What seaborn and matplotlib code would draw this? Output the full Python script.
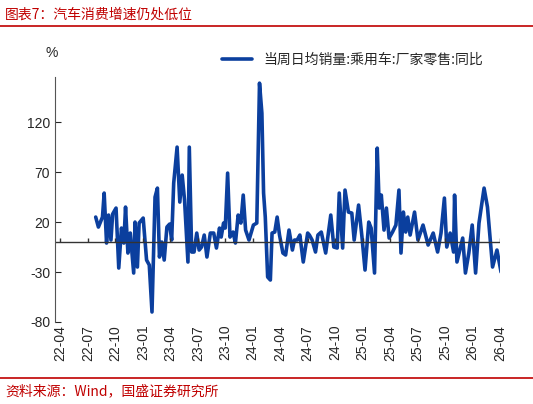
import numpy as np
import pandas as pd
import matplotlib
matplotlib.use("Agg")
import matplotlib.pyplot as plt
import seaborn as sns

# x positions (pixel-ish units, converted to months since 2022-07)
x_a = [120,128,140,145,152,158,165,170,180,188,196,203,208,215,222,232,236,243,248,260,270,278,286,295,302,308,315,322,330,338,344,350,360,368,375,382,392,396,403,410,418,425,432,440,448,458,468,476,485,490,497,502,509,516,525,532,540,548,555,562,572,585,595,603,610,615,620,627,635,640,648,655,662,672,680,690,700,706,714,722,732,745]
v_a = [25,15,25,49,-1,27,2,28,34,-26,14,-1,35,-11,9,-31,20,-25,19,24,-18,-23,-70,45,54,-15,0,-18,15,18,2,59,95,40,67,42,-20,95,-10,-10,9,-8,-5,7,-15,9,9,-6,14,5,19,14,69,5,10,-1,27,19,47,12,2,17,19,159,129,49,25,-35,-38,9,10,25,7,-11,-13,12,-8,2,2,7,-20,9]
x_b = [60,68,78,85,95,108,123,132,142,148,158,165,175,185,192,205,215,224,235,242,252,260,266,272,280,287,295,305,315,324,330,337,344,350,357,370,380,395,410,425,438,448,458,465,475,485,488,495,505,512,520,530,540,550,560,575,585,600,613,625,632,640,647,655,658]
v_b = [7,2,-10,7,10,-11,27,-5,-6,49,-6,52,30,29,2,37,5,-28,20,14,-31,94,34,47,12,34,4,10,17,52,-11,30,10,25,7,30,2,17,-3,9,-10,9,44,-5,9,-10,47,-20,-6,4,-31,-11,17,-31,19,54,35,-25,-8,-30,-13,-31,-10,-25,-16]
tick_labels = ["22-04","22-07","22-10","23-01","23-04","23-07","23-10","24-01","24-04","24-07","24-10",
               "25-01","25-04","25-07","25-10","26-01","26-04"]
y_ticks = [-80, -30, 20, 70, 120]

months = np.concatenate([np.array(x_a) / 27 - 3.59, np.array(x_b) / 27 + 21.97])
df = pd.DataFrame({"m": months, "v": v_a + v_b})

sns.set_style("white")
plt.rcParams['font.family'] = ['Noto Sans CJK SC', 'DejaVu Sans']
fig = plt.figure(figsize=(5.33, 4.04), dpi=100)
ax = fig.add_axes([0.103, 0.203, 0.835, 0.606])
sns.lineplot(data=df, x="m", y="v", ax=ax, color="#0B3F9E", lw=2.6,
             label="当周日均销量:乘用车:厂家零售:同比")
ax.lines[0].set_solid_joinstyle("round")
ax.set_ylim(-80, 165)
ax.set_xlim(-3.6, 43.5)
ax.set_yticks(y_ticks)
ax.set_yticklabels([str(t) for t in y_ticks], fontsize=10, family="Liberation Sans")
tpos = np.arange(-3, 46, 3)
ax.set_xticks(tpos)
ax.set_xticklabels(tick_labels, rotation=90, fontsize=10, family="Liberation Sans")
ax.tick_params(axis="x", length=0, pad=2)
ax.tick_params(axis="y", length=4, direction="in", left=True, width=0.8)
ax.axhline(0, color="#333333", lw=1)
ax.vlines(tpos, 0, 4, color="#333333", lw=1)
for s in ["top", "right", "bottom"]:
    ax.spines[s].set_visible(False)
ax.spines["left"].set_color("#555555")
ax.set_xlabel(""); ax.set_ylabel("")
ax.legend(loc="upper right", bbox_to_anchor=(0.99, 1.15), frameon=False, fontsize=10,
          handlelength=2.2)
fig.text(0.085, 0.86, "%", fontsize=10, family="Liberation Sans")
red = "#C00000"
fig.text(0.01, 0.965, "图表7：汽车消费增速仍处低位", color=red, fontsize=10, style="italic", va="center")
fig.add_artist(plt.Line2D([0.0, 1.0], [0.935, 0.935], color=red, lw=1.2))
fig.add_artist(plt.Line2D([0.0, 1.0], [0.065, 0.065], color=red, lw=1.2))
fig.text(0.01, 0.032, "资料来源：Wind，国盛证券研究所", color=red, fontsize=10, style="italic", va="center")
fig.savefig("out.png", dpi=100)
